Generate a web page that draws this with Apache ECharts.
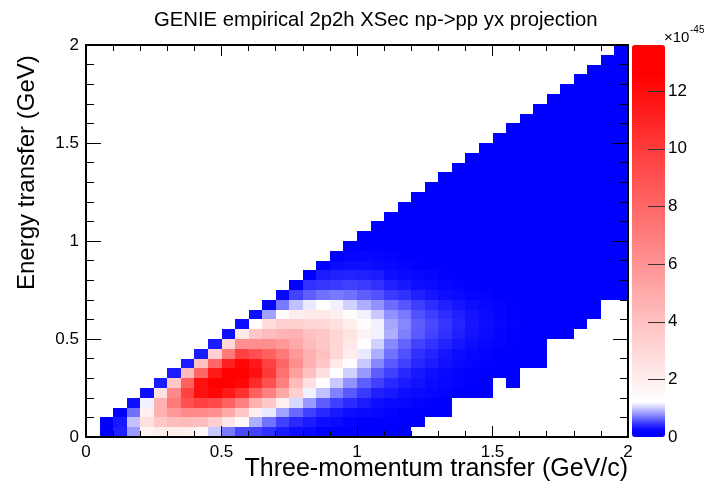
<!DOCTYPE html>
<html><head><meta charset="utf-8">
<script src="https://cdn.jsdelivr.net/npm/echarts@6/dist/echarts.min.js"></script>
<style>html,body{margin:0;padding:0;background:#fff}#c{width:716px;height:486px}</style>
</head><body><div id="c"></div>
<script>
const titleText = 'GENIE empirical 2p2h XSec np->pp yx projection';
const xTitle = 'Three-momentum transfer (GeV/c)';
const yTitle = 'Energy transfer (GeV)';
const axisTicks = [0, 0.5, 1, 1.5, 2];
const colorbarTicks = [0, 2, 4, 6, 8, 10, 12];
const zMax = 13.6;
const binWidth = 0.05;
// first filled y-bin index for each x-bin (x-bin 0 is empty)
const colStart = [0,0,0,0,0,0,0,0,0,0, 0,0,0,0,0,0,0,0,0,0, 0,0,0,0,1,2,2,4,4,4, 6,5,7,7,10,10,11,12,14,14];
// cell contents (x10^-45) per x-bin, from colStart upward
const colValues = [
 [],
 [0.15,0.2],
 [0.37,0.34,0.2],
 [0.82,0.97,0.67,0.3],
 [1.7,2.6,1.9,1.15,0.3],
 [1.95,3.7,4.7,4.7,2.6,0.35],
 [2.0,4.2,5.8,7.2,6.5,3.7,0.35],
 [1.87,4.3,6.5,9.0,9.7,8.3,4.3,0.35],
 [1.5,4.1,6.5,9.7,11.9,11.9,8.0,4.0,0.35],
 [1.0,3.4,6.2,9.4,12.3,13.0,11.5,8.0,3.3,0.35],
 [0.7,2.3,5.1,8.3,11.5,13.2,13.5,11.2,7.2,3.0,0.3],
 [0.52,1.5,3.7,6.9,10.4,12.3,13.1,12.3,9.7,6.2,2.2,0.3],
 [0.5,0.9,1.9,4.7,8.3,10.7,11.9,11.5,9.0,6.2,3.7,1.3,0.3],
 [0.43,0.67,1.12,3.7,6.9,9.0,10.1,9.7,8.3,6.2,4.2,2.7,0.85,0.25],
 [0.35,0.49,0.85,1.9,5.1,6.9,7.6,8.0,7.2,5.8,4.5,3.3,1.3,0.7,0.25],
 [0.3,0.4,0.64,1.05,3.3,4.3,5.45,6.2,5.8,5.1,4.7,3.3,1.95,0.97,0.5,0.2],
 [0.27,0.35,0.49,0.82,1.15,2.6,4.0,4.7,4.7,4.3,4.0,3.1,2.2,1.12,0.6,0.43,0.15],
 [0.2,0.3,0.4,0.6,0.97,1.3,2.6,3.7,4.0,3.7,3.7,3.0,2.2,1.25,0.67,0.45,0.35,0.12],
 [0.18,0.27,0.34,0.49,0.73,1.0,1.25,2.2,3.0,3.0,3.0,2.6,1.95,1.15,0.7,0.47,0.37,0.28,0.1],
 [0.15,0.22,0.3,0.41,0.58,0.79,1.03,1.3,1.95,2.2,2.4,1.95,1.35,1.03,0.67,0.49,0.38,0.3,0.24,0.1],
 [0.13,0.2,0.27,0.35,0.46,0.6,0.82,1.0,1.12,1.3,1.7,1.3,1.15,0.9,0.6,0.47,0.37,0.3,0.25,0.2,0.1],
 [0.1,0.18,0.25,0.3,0.37,0.49,0.6,0.76,0.9,1.03,1.15,1.15,1.0,0.79,0.55,0.43,0.35,0.28,0.24,0.2,0.17,0.1],
 [0.1,0.15,0.22,0.27,0.34,0.4,0.49,0.58,0.67,0.76,0.9,0.87,0.79,0.65,0.47,0.37,0.3,0.25,0.22,0.19,0.16,0.14,0.09],
 [0.08,0.12,0.2,0.25,0.3,0.35,0.4,0.49,0.55,0.62,0.72,0.75,0.7,0.57,0.43,0.34,0.27,0.23,0.2,0.17,0.15,0.13,0.11,0.08],
 [0.1,0.17,0.22,0.28,0.32,0.34,0.4,0.43,0.5,0.58,0.6,0.55,0.48,0.37,0.3,0.25,0.21,0.19,0.16,0.14,0.12,0.1,0.09,0.08],
 [0.14,0.2,0.25,0.28,0.3,0.35,0.38,0.44,0.5,0.52,0.48,0.42,0.33,0.28,0.23,0.19,0.17,0.15,0.13,0.11,0.1,0.09,0.08,0.07],
 [0.12,0.17,0.22,0.25,0.27,0.31,0.33,0.38,0.43,0.45,0.42,0.37,0.3,0.25,0.21,0.17,0.15,0.13,0.12,0.1,0.09,0.08,0.08,0.07,0.07],
 [0.2,0.22,0.24,0.27,0.29,0.33,0.37,0.39,0.37,0.33,0.27,0.23,0.19,0.16,0.14,0.12,0.11,0.1,0.09,0.08,0.07,0.07,0.06,0.06],
 [0.18,0.2,0.21,0.24,0.25,0.29,0.32,0.33,0.32,0.29,0.24,0.21,0.17,0.14,0.13,0.11,0.1,0.09,0.08,0.07,0.07,0.06,0.06,0.05,0.05],
 [0.15,0.18,0.19,0.21,0.22,0.25,0.28,0.29,0.28,0.25,0.22,0.19,0.15,0.13,0.12,0.1,0.09,0.08,0.08,0.07,0.06,0.06,0.05,0.05,0.05,0.04],
 [0.16,0.18,0.19,0.22,0.24,0.25,0.24,0.22,0.19,0.17,0.14,0.12,0.11,0.09,0.08,0.08,0.07,0.06,0.06,0.05,0.05,0.05,0.04,0.04,0.04],
 [0.12,0.14,0.15,0.17,0.19,0.21,0.22,0.21,0.19,0.17,0.15,0.12,0.11,0.1,0.09,0.08,0.07,0.06,0.06,0.05,0.05,0.05,0.04,0.04,0.04,0.04,0.03],
 [0.13,0.14,0.16,0.18,0.19,0.18,0.17,0.15,0.13,0.11,0.1,0.09,0.08,0.07,0.06,0.06,0.05,0.05,0.05,0.04,0.04,0.04,0.04,0.03,0.03,0.03],
 [0.11,0.12,0.14,0.15,0.16,0.16,0.15,0.13,0.12,0.1,0.09,0.08,0.07,0.06,0.06,0.05,0.05,0.05,0.04,0.04,0.04,0.03,0.03,0.03,0.03,0.03,0.03],
 [0.13,0.14,0.14,0.13,0.12,0.11,0.09,0.08,0.07,0.06,0.06,0.05,0.05,0.05,0.04,0.04,0.04,0.03,0.03,0.03,0.03,0.03,0.02,0.02,0.02],
 [0.12,0.12,0.12,0.12,0.11,0.1,0.08,0.08,0.07,0.06,0.05,0.05,0.05,0.04,0.04,0.04,0.03,0.03,0.03,0.03,0.03,0.02,0.02,0.02,0.02,0.02],
 [0.11,0.11,0.1,0.1,0.09,0.08,0.07,0.06,0.06,0.05,0.05,0.04,0.04,0.04,0.03,0.03,0.03,0.03,0.03,0.02,0.02,0.02,0.02,0.02,0.02,0.02],
 [0.1,0.1,0.09,0.08,0.07,0.07,0.06,0.05,0.05,0.04,0.04,0.04,0.03,0.03,0.03,0.03,0.03,0.02,0.02,0.02,0.02,0.02,0.02,0.02,0.02,0.02],
 [0.08,0.08,0.07,0.06,0.05,0.05,0.05,0.04,0.04,0.04,0.03,0.03,0.03,0.03,0.02,0.02,0.02,0.02,0.02,0.02,0.02,0.02,0.02,0.01,0.01],
 [0.08,0.07,0.06,0.06,0.05,0.05,0.04,0.04,0.04,0.03,0.03,0.03,0.03,0.02,0.02,0.02,0.02,0.02,0.02,0.02,0.02,0.01,0.01,0.01,0.01,0.01]
];

// build [xLow, yLow, value] items
const cells = [];
colValues.forEach((vals, i) => {
  vals.forEach((v, k) => {
    const j = colStart[i] + k;
    cells.push([i * binWidth, j * binWidth, v]);
  });
});

// blue-white-red palette
const stops = [[0, [0,0,255]], [0.25, [0,0,255]], [1.2, [255,255,255]], [12.6, [255,0,0]], [13.6, [255,0,0]]];
function pal(v) {
  for (let s = 1; s < stops.length; s++) {
    if (v <= stops[s][0]) {
      const a = stops[s-1], b = stops[s];
      const t = (v - a[0]) / (b[0] - a[0]);
      const c = a[1].map((x, n) => Math.round(x + (b[1][n] - x) * t));
      return 'rgb(' + c.join(',') + ')';
    }
  }
  return 'rgb(255,0,0)';
}
const N = 137;
const colors = [];
for (let k = 0; k < N; k++) colors.push(pal(zMax * k / (N - 1)));

const FONT = 'Liberation Sans, Arial, Helvetica, sans-serif';
const tickStyle = { color: '#000', width: 1 };

function frameAxis(pos, withLabels) {
  const horiz = (pos === 'top' || pos === 'bottom');
  return {
    type: 'value', gridIndex: 0, min: axisTicks[0], max: axisTicks[axisTicks.length - 1], interval: 0.5,
    position: pos, z: 10,
    axisLine: { show: true, onZero: false, lineStyle: { color: '#000', width: 2 } },
    axisTick: { show: true, inside: true, length: horiz ? 11 : 15, lineStyle: tickStyle },
    minorTick: { show: true, splitNumber: 5, length: horiz ? 6 : 8, lineStyle: tickStyle },
    splitLine: { show: false },
    axisLabel: { show: withLabels, color: '#000', fontSize: 17, fontFamily: FONT, margin: 7 }
  };
}

const chart = echarts.init(document.getElementById('c'), null, { renderer: 'canvas' });
chart.setOption({
  animation: false,
  backgroundColor: '#fff',
  title: {
    text: titleText, left: 149, top: 5,
    textStyle: { fontFamily: FONT, fontSize: 20.3, fontWeight: 'normal', color: '#000' }
  },
  grid: [
    { left: 86, top: 45, width: 542, height: 392, show: false, outerBoundsMode: 'none', containLabel: false },
    { left: 632, top: 45, width: 33, height: 392, show: false, outerBoundsMode: 'none', containLabel: false }
  ],
  xAxis: [
    frameAxis('bottom', true),
    frameAxis('top', false),
    { type: 'value', gridIndex: 1, show: false, min: 0, max: 1 }
  ],
  yAxis: [
    frameAxis('left', true),
    frameAxis('right', false),
    {
      type: 'value', gridIndex: 1, position: 'right', min: 0, max: zMax, z: 12,
      axisLine: { show: false },
      axisTick: { show: false },
      axisLabel: { show: true, customValues: colorbarTicks, color: '#000', fontSize: 17, fontFamily: FONT, margin: 3 },
      splitLine: { show: false }
    }
  ],
  visualMap: {
    type: 'continuous', min: 0, max: zMax, dimension: 2, seriesIndex: 0, z: 1,
    calculable: false, realtime: false, hoverLink: false,
    orient: 'vertical', left: 632, top: 45, padding: 0,
    itemWidth: 33, itemHeight: 392, text: null, showLabel: false,
    inRange: { color: colors }
  },
  series: [{
    type: 'custom', coordinateSystem: 'cartesian2d', xAxisIndex: 0, yAxisIndex: 0,
    encode: { x: 0, y: 1 },
    data: cells,
    renderItem: function (params, api) {
      const x0 = api.value(0), y0 = api.value(1);
      const p0 = api.coord([x0, y0 + binWidth]);
      const p1 = api.coord([x0 + binWidth, y0]);
      const xa = Math.round(p0[0]), ya = Math.round(p0[1]);
      const xb = Math.round(p1[0]), yb = Math.round(p1[1]);
      return {
        type: 'rect',
        shape: { x: xa, y: ya, width: xb - xa, height: yb - ya },
        style: { fill: api.visual('color'), stroke: null }
      };
    }
  }]
});

// frame, texts and colorbar ticks placed from the axes' own pixel mapping
const pLo = chart.convertToPixel({ xAxisIndex: 0, yAxisIndex: 0 }, [axisTicks[0], axisTicks[0]]);
const pHi = chart.convertToPixel({ xAxisIndex: 0, yAxisIndex: 0 }, [axisTicks[4], axisTicks[4]]);
const barRight = pHi[0] + 37;
const g = [
  { id: 'frame', type: 'rect', z: 40, silent: true,
    shape: { x: Math.round(pLo[0]), y: Math.round(pHi[1]), width: Math.round(pHi[0] - pLo[0]), height: Math.round(pLo[1] - pHi[1]) },
    style: { fill: null, stroke: '#000', lineWidth: 2 } },
  { id: 'xt', type: 'text', x: pHi[0], y: pLo[1] + 20, z: 30,
    style: { text: xTitle, fontFamily: FONT, fontSize: 25, fill: '#000', align: 'right', verticalAlign: 'top' } },
  { id: 'yt', type: 'text', x: 15, y: pLo[1] - 147, rotation: Math.PI / 2, z: 30,
    style: { text: yTitle, fontFamily: FONT, fontSize: 24, fill: '#000', align: 'left', verticalAlign: 'top' } },
  { id: 'e1', type: 'text', x: barRight - 1, y: pHi[1] - 15, z: 30,
    style: { text: '\u00d710', fontFamily: FONT, fontSize: 15, fill: '#000' } },
  { id: 'e2', type: 'text', x: barRight + 25, y: pHi[1] - 20, z: 30,
    style: { text: '-45', fontFamily: FONT, fontSize: 10, fill: '#000' } }
];
colorbarTicks.forEach((t, k) => {
  if (t === 0) return;
  const y = Math.round(chart.convertToPixel({ yAxisIndex: 2 }, t)) + 0.5;
  g.push({ id: 'cbt' + k, type: 'line', z: 30, silent: true,
    shape: { x1: barRight - 17, y1: y, x2: barRight, y2: y },
    style: { stroke: '#333', lineWidth: 1 } });
});
chart.setOption({ graphic: g });
</script></body></html>
